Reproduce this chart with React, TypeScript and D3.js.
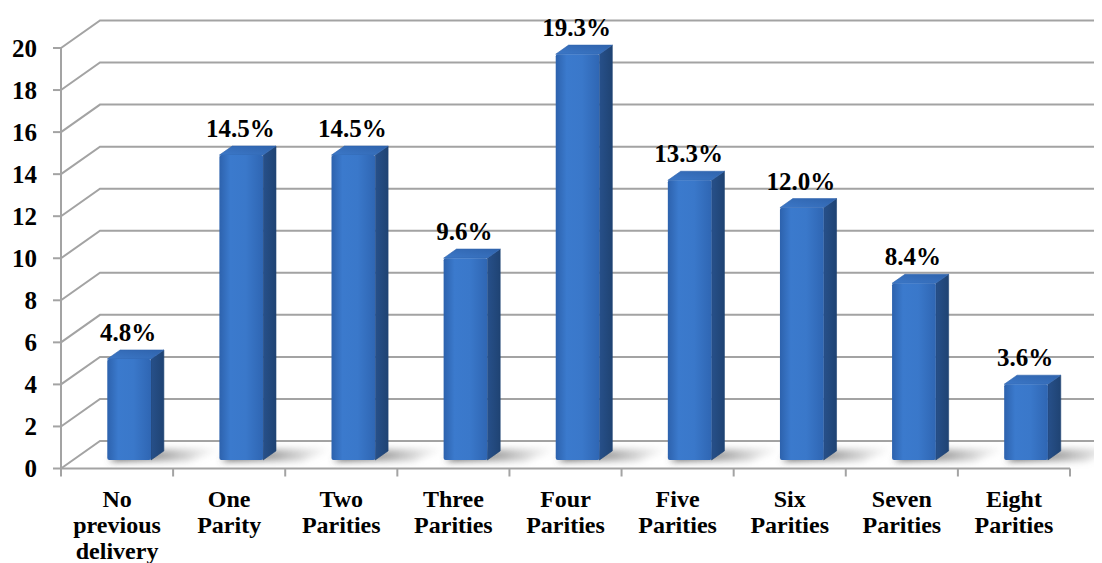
import React from "react";
import * as d3 from "d3";

// Parity distribution (percent of respondents)
const categories: string[][] = [
  ["No", "previous", "delivery"],
  ["One", "Parity"],
  ["Two", "Parities"],
  ["Three", "Parities"],
  ["Four", "Parities"],
  ["Five", "Parities"],
  ["Six", "Parities"],
  ["Seven", "Parities"],
  ["Eight", "Parities"],
];
const values: number[] = [4.8, 14.5, 14.5, 9.6, 19.3, 13.3, 12.0, 8.4, 3.6];
const yTicks: number[] = [0, 2, 4, 6, 8, 10, 12, 14, 16, 18, 20];

const W = 1102;
const H = 563;
const SERIF = '"Liberation Serif"';

// oblique projection of the depth axis
const DEPTH_X = 39;
const DEPTH_Y = -27.5;
const BAR_FRONT = 0.31; // depth fraction where bar front faces sit
const BAR_BACK = 0.64;

export default function App() {
  const x = d3
    .scaleBand<number>()
    .domain(values.map((_, i) => i))
    .range([61, 1070])
    .paddingInner(0)
    .paddingOuter(0);
  const y = d3.scaleLinear().domain([0, 20]).range([468.5, 48]);

  const bw = x.bandwidth();
  const barW = bw * 0.39;
  const fx = BAR_FRONT * DEPTH_X;
  const fy = BAR_FRONT * DEPTH_Y;
  const sdx = (BAR_BACK - BAR_FRONT) * DEPTH_X;
  const sdy = (BAR_BACK - BAR_FRONT) * DEPTH_Y;

  const x0 = x(0)!;
  const xEnd = x0 + bw * values.length;

  return (
    <svg
      width={W}
      height={H}
      style={{ display: "block", margin: "-8px 0 0 -8px" }}
    >
      <defs>
        <linearGradient id="front" x1="0" x2="1" y1="0" y2="0">
          <stop offset="0" stopColor="#2d62ad" />
          <stop offset="0.25" stopColor="#3b7acd" />
          <stop offset="0.6" stopColor="#3a78ca" />
          <stop offset="1" stopColor="#2f66b3" />
        </linearGradient>
        <linearGradient id="side" x1="0" x2="1" y1="0" y2="0">
          <stop offset="0" stopColor="#27508a" />
          <stop offset="1" stopColor="#1f4373" />
        </linearGradient>
        <linearGradient id="top" x1="0" x2="1" y1="1" y2="0">
          <stop offset="0" stopColor="#3c78c8" />
          <stop offset="1" stopColor="#2f63ac" />
        </linearGradient>
        <linearGradient id="shade" x1="0" x2="1" y1="0" y2="0">
          <stop offset="0" stopColor="#555" stopOpacity="1" />
          <stop offset="0.5" stopColor="#888" stopOpacity="0.7" />
          <stop offset="1" stopColor="#bbb" stopOpacity="0" />
        </linearGradient>
        <filter id="soft" x="-30%" y="-80%" width="160%" height="260%">
          <feGaussianBlur stdDeviation="3.5" />
        </filter>
      </defs>

      {/* wall gridlines: left-wall diagonal plus back-wall horizontal */}
      {yTicks.map((t) => (
        <polyline
          key={`g${t}`}
          points={`${x0},${y(t)} ${x0 + DEPTH_X},${y(t) + DEPTH_Y} ${xEnd + DEPTH_X},${y(t) + DEPTH_Y}`}
          fill="none"
          stroke="#a3a3a3"
          strokeWidth={2}
        />
      ))}

      {/* soft floor shadows behind each bar */}
      {values.map((v, i) => {
        const xl = x(i)! + bw / 2 - barW / 2 + fx;
        const xr = xl + barW;
        const yb = y(0) + fy;
        const pts = [
          [xl + 2, yb + 1],
          [xr + 38, yb + 1],
          [xr + sdx + 60, yb + sdy - 3],
          [xl + sdx, yb + sdy],
        ]
          .map((p) => p.join(","))
          .join(" ");
        return (
          <polygon key={`s${i}`} points={pts} fill="url(#shade)" filter="url(#soft)" />
        );
      })}

      {/* bars */}
      {values.map((v, i) => {
        const xl = x(i)! + bw / 2 - barW / 2 + fx;
        const xr = xl + barW;
        const yb = y(0) + fy;
        const yt = y(v) + fy;
        const side = `${xr},${yt} ${xr + sdx},${yt + sdy} ${xr + sdx},${yb + sdy} ${xr},${yb}`;
        const top = `${xl},${yt} ${xl + sdx},${yt + sdy} ${xr + sdx},${yt + sdy} ${xr},${yt}`;
        return (
          <g key={`b${i}`}>
            <polygon points={side} fill="url(#side)" stroke="#1f4373" strokeWidth={0.6} strokeLinejoin="round" />
            <polygon points={top} fill="url(#top)" stroke="#2f63ac" strokeWidth={0.6} strokeLinejoin="round" />
            <rect x={xl} y={yt} width={barW} height={yb - yt} rx={2} fill="url(#front)" />
          </g>
        );
      })}

      {/* value labels */}
      {values.map((v, i) => {
        const xl = x(i)! + bw / 2 - barW / 2 + fx;
        const yt = y(v) + fy;
        return (
          <text
            key={`v${i}`}
            x={xl + barW / 2 - 1}
            y={yt + sdy - 9}
            textAnchor="middle"
            fontSize={25}
            fontWeight={700}
            style={{ fontFamily: SERIF }}
          >
            {`${v.toFixed(1)}%`}
          </text>
        );
      })}

      {/* value axis */}
      <line x1={x0} x2={x0} y1={y(20)} y2={y(0) + 7} stroke="#a3a3a3" strokeWidth={2} />
      {yTicks.map((t) => (
        <line key={`tk${t}`} x1={x0 - 8} x2={x0} y1={y(t)} y2={y(t)} stroke="#a3a3a3" strokeWidth={2} />
      ))}
      {yTicks.map((t) => (
        <text
          key={`t${t}`}
          x={37}
          y={y(t) + 8.5}
          textAnchor="end"
          fontSize={25}
          fontWeight={700}
          style={{ fontFamily: SERIF }}
        >
          {t}
        </text>
      ))}

      {/* category axis */}
      <line x1={x0} x2={xEnd} y1={y(0)} y2={y(0)} stroke="#a3a3a3" strokeWidth={2} />
      {d3.range(values.length + 1).map((i) => (
        <line
          key={`ct${i}`}
          x1={x0 + bw * i}
          x2={x0 + bw * i}
          y1={y(0)}
          y2={y(0) + 8}
          stroke="#a3a3a3"
          strokeWidth={2}
        />
      ))}
      {categories.map((lines, i) =>
        lines.map((l, j) => (
          <text
            key={`c${i}-${j}`}
            x={x(i)! + bw / 2}
            y={506.5 + j * 26.3}
            textAnchor="middle"
            fontSize={24}
            fontWeight={700}
            style={{ fontFamily: SERIF }}
          >
            {l}
          </text>
        ))
      )}
    </svg>
  );
}
